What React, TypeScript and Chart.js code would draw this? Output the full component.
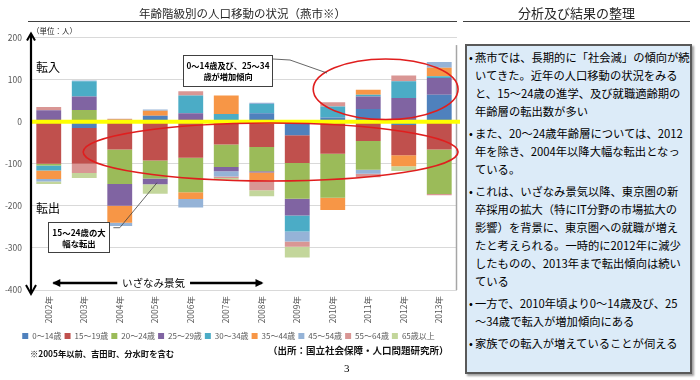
import React, { useEffect, useRef } from "react";
import { Chart, registerables } from "chart.js";

Chart.register(...registerables);

const FONT = '"Noto Sans CJK JP", "Liberation Sans", sans-serif';

const YEARS = ["2002年", "2003年", "2004年", "2005年", "2006年", "2007年", "2008年", "2009年", "2010年", "2011年", "2012年", "2013年"];
const AGE_LABELS = ["0～14歳", "15～19歳", "20～24歳", "25～29歳", "30～34歳", "35～44歳", "45～54歳", "55～64歳", "65歳以上"];

const AGE_0_14 = [0, -15, 0, 14, 0, 0, 20, -32, 10, 30, -8, 64];
const AGE_15_19 = [-100, -85, -66, -92, -86, -54, -60, -66, -76, -46, -72, -66];
const AGE_20_24 = [-4, 28, -82, -43, -82, -54, -58, -85, -105, -68, 0, -106];
const AGE_25_29 = [27, 32, -52, -14, 20, -10, -3, -40, 0, 30, 56, 40];
const AGE_30_34 = [-12, 36, 0, 0, 42, 18, 22, -38, 26, 4, 40, 4];
const AGE_35_44 = [-20, 0, -40, 12, -16, 44, -18, 0, -29, 12, -26, 20];
const AGE_45_54 = [-6, 2, -8, 3, -20, -12, 3, -24, 0, -10, 0, 14];
const AGE_55_64 = [8, -22, 7, 0, 10, -4, -24, -12, 10, -8, 14, -3];
const AGE_65_UP = [-6, -12, 0, -22, 0, -4, -14, -26, 0, 0, -11, 0];

const SERIES = [AGE_0_14, AGE_15_19, AGE_20_24, AGE_25_29, AGE_30_34, AGE_35_44, AGE_45_54, AGE_55_64, AGE_65_UP];
const COLORS = ["#4F81BD", "#C0504D", "#9BBB59", "#8064A2", "#4BACC6", "#F79646", "#95B3D7", "#D99694", "#C3D69B"];

const Y_MIN = -400;
const Y_MAX = 200;
const Y_STEP = 100;

const TITLE_LEFT = "年齢階級別の人口移動の状況（燕市※）";
const TITLE_RIGHT = "分析及び結果の整理";
const NOTE = "※2005年以前、吉田町、分水町を含む";
const SOURCE = "（出所：国立社会保障・人口問題研究所）";

const PANEL = [
  ["燕市では、長期的に「社会減」の傾向が続", "いてきた。近年の人口移動の状況をみる", "と、15～24歳の進学、及び就職適齢期の", "年齢層の転出数が多い"],
  ["また、20～24歳年齢層については、2012", "年を除き、2004年以降大幅な転出となっ", "ている。"],
  ["これは、いざなみ景気以降、東京圏の新", "卒採用の拡大（特にIT分野の市場拡大の", "影響）を背景に、東京圏への就職が増え", "たと考えられる。一時的に2012年に減少", "したものの、2013年まで転出傾向は続い", "ている"],
  ["一方で、2010年頃より0～14歳及び、25", "～34歳で転入が増加傾向にある"],
  ["家族での転入が増えていることが伺える"],
];

const overlayPlugin = {
  id: "slideOverlay",
  afterDatasetsDraw(chart: any) {
    const { ctx, chartArea: ca, scales } = chart;
    const xs = scales.x;
    const ys = scales.y;
    const X = (i: number) => xs.getPixelForValue(i);
    const Y = (v: number) => ys.getPixelForValue(v);
    ctx.save();

    // right frame line
    ctx.strokeStyle = "#A6A6A6";
    ctx.lineWidth = 1.5;
    ctx.beginPath();
    ctx.moveTo(ca.right - 0.5, Y(182));
    ctx.lineTo(ca.right - 0.5, ca.bottom);
    ctx.stroke();

    // yellow zero line
    ctx.strokeStyle = "#FFFF00";
    ctx.lineWidth = 4;
    ctx.beginPath();
    ctx.moveTo(ca.left, Y(0));
    ctx.lineTo(ca.right + 3, Y(0));
    ctx.stroke();

    // black vertical axis with arrows
    const ax = ca.left;
    ctx.strokeStyle = "#000";
    ctx.lineWidth = 2.2;
    ctx.beginPath();
    ctx.moveTo(ax, Y(Y_MAX) - 3);
    ctx.lineTo(ax, ca.bottom + 3);
    ctx.stroke();
    ctx.lineWidth = 2;
    ctx.beginPath();
    ctx.moveTo(ax - 4, Y(Y_MAX) + 3);
    ctx.lineTo(ax, Y(Y_MAX) - 4);
    ctx.lineTo(ax + 4, Y(Y_MAX) + 3);
    ctx.stroke();
    ctx.beginPath();
    ctx.moveTo(ax - 5, ca.bottom - 5);
    ctx.lineTo(ax, ca.bottom + 4);
    ctx.lineTo(ax + 5, ca.bottom - 5);
    ctx.stroke();

    // axis captions
    ctx.fillStyle = "#262626";
    ctx.textBaseline = "middle";
    ctx.textAlign = "left";
    ctx.font = `7.5px ${FONT}`;
    ctx.fillText("（単位：人）", ax + 1, Y(Y_MAX) - 6);
    ctx.fillStyle = "#000";
    ctx.font = `12px ${FONT}`;
    ctx.fillText("転入", ax + 5, Y(130));
    ctx.fillText("転出", ax + 5, Y(-205));

    // いざなみ景気 arrow
    const ay = ca.bottom - 7;
    ctx.strokeStyle = "#000";
    ctx.fillStyle = "#000";
    ctx.lineWidth = 2.4;
    ctx.beginPath();
    ctx.moveTo(X(0.13), ay);
    ctx.lineTo(X(1.93), ay);
    ctx.moveTo(X(3.98), ay);
    ctx.lineTo(X(6.0), ay);
    ctx.stroke();
    ctx.beginPath();
    ctx.moveTo(X(0.1), ay);
    ctx.lineTo(X(0.1) + 8, ay - 4);
    ctx.lineTo(X(0.1) + 8, ay + 4);
    ctx.closePath();
    ctx.fill();
    ctx.beginPath();
    ctx.moveTo(X(6.05), ay);
    ctx.lineTo(X(6.05) - 8, ay - 4);
    ctx.lineTo(X(6.05) - 8, ay + 4);
    ctx.closePath();
    ctx.fill();
    ctx.font = `10.5px ${FONT}`;
    ctx.textAlign = "center";
    ctx.fillText("いざなみ景気", X(2.95), ay);

    // red ellipses
    ctx.strokeStyle = "#E01E1E";
    ctx.lineWidth = 1.6;
    ctx.beginPath();
    ctx.ellipse(X(6.25), Y(-72), X(11.53) - X(6.25), Y(-69) - Y(0), 0, 0, Math.PI * 2);
    ctx.stroke();
    ctx.beginPath();
    ctx.ellipse(X(9.49), Y(77), X(11.53) - X(9.49), Y(0) - Y(72), 0, 0, Math.PI * 2);
    ctx.stroke();

    // annotation 1
    ctx.strokeStyle = "#404040";
    ctx.lineWidth = 0.8;
    ctx.beginPath();
    ctx.moveTo(273, 59);
    ctx.lineTo(290, 60);
    ctx.lineTo(327, 73);
    ctx.stroke();
    ctx.fillStyle = "#fff";
    ctx.fillRect(183.5, 55.5, 89, 31);
    ctx.lineWidth = 1;
    ctx.strokeRect(183.5, 55.5, 89, 31);
    ctx.fillStyle = "#000";
    ctx.font = `bold 8.2px ${FONT}`;
    ctx.textAlign = "center";
    ctx.fillText("0～14歳及び、25～34", 228, 65.5);
    ctx.fillText("歳が増加傾向", 228, 76.5);

    // annotation 2
    ctx.lineWidth = 0.8;
    ctx.beginPath();
    ctx.moveTo(X(1.82), Y(-252));
    ctx.lineTo(X(2.0), Y(-252));
    ctx.lineTo(X(3.05), Y(-145));
    ctx.stroke();
    ctx.fillStyle = "#fff";
    ctx.fillRect(48.5, 222.5, 61, 30);
    ctx.lineWidth = 1;
    ctx.strokeRect(48.5, 222.5, 61, 30);
    ctx.fillStyle = "#000";
    ctx.font = `bold 8.4px ${FONT}`;
    ctx.fillText("15～24歳の大", 79, 232.5);
    ctx.fillText("幅な転出", 79, 243.5);

    ctx.restore();
  },
};

export default function App() {
  const ref = useRef<HTMLCanvasElement>(null);

  useEffect(() => {
    const chart = new Chart(ref.current as HTMLCanvasElement, {
      type: "bar",
      data: {
        labels: YEARS,
        datasets: SERIES.map((d, i) => ({
          label: AGE_LABELS[i],
          data: d,
          backgroundColor: COLORS[i],
          borderWidth: 0,
          categoryPercentage: 1,
          barPercentage: 0.7,
        })),
      },
      options: {
        responsive: false,
        animation: false,
        devicePixelRatio: 1,
        layout: { padding: { left: 0, right: 3, top: 37.5, bottom: 30 } },
        plugins: {
          title: { display: false },
          tooltip: { enabled: false },
          legend: {
            position: "bottom",
            labels: {
              boxWidth: 6,
              boxHeight: 6,
              padding: 3,
              color: "#595959",
              font: { size: 8, family: FONT },
            },
          },
        },
        scales: {
          x: {
            stacked: true,
            grid: { display: false, drawTicks: false },
            border: { display: false },
            ticks: {
              autoSkip: false,
              minRotation: 90,
              maxRotation: 90,
              padding: 6,
              color: "#595959",
              font: { size: 8.5, family: FONT },
            },
            afterFit: (s: any) => {
              s.height = 39;
            },
          },
          y: {
            stacked: true,
            min: Y_MIN,
            max: Y_MAX,
            grid: { color: "#D9D9D9", lineWidth: 1, drawTicks: false },
            border: { display: false },
            ticks: {
              stepSize: Y_STEP,
              padding: 9,
              color: "#595959",
              font: { size: 8.5, family: FONT },
            },
            afterFit: (s: any) => {
              s.width = 31;
            },
          },
        },
      },
      plugins: [overlayPlugin],
    });
    return () => chart.destroy();
  }, []);

  return (
    <div
      style={{
        position: "fixed",
        left: 0,
        top: 0,
        width: 700,
        height: 380,
        background: "#fff",
        overflow: "hidden",
        fontFamily: FONT,
        color: "#000",
      }}
    >
      <canvas ref={ref} width={460} height={380} style={{ position: "absolute", left: 0, top: 0, width: 460, height: 380 }} />
      <div
        style={{
          position: "absolute",
          left: 28,
          top: 5,
          width: 429,
          height: 16,
          borderBottom: "1.5px solid #404040",
          textAlign: "center",
          fontSize: 11.5,
          lineHeight: "16px",
          color: "#262626",
          whiteSpace: "nowrap",
        }}
      >
        {TITLE_LEFT}
      </div>
      <div
        style={{
          position: "absolute",
          left: 463,
          top: 4,
          width: 227,
          height: 17,
          borderBottom: "1.5px solid #404040",
          textAlign: "center",
          fontSize: 13,
          lineHeight: "18px",
          color: "#262626",
          whiteSpace: "nowrap",
        }}
      >
        {TITLE_RIGHT}
      </div>
      <div style={{ position: "absolute", left: 30, top: 346, fontSize: 8.3, fontWeight: 700, lineHeight: "14px", whiteSpace: "nowrap", color: "#111" }}>
        {NOTE}
      </div>
      <div style={{ position: "absolute", left: 268, top: 343, fontSize: 9.5, fontWeight: 700, lineHeight: "14px", whiteSpace: "nowrap", color: "#111" }}>
        {SOURCE}
      </div>
      <div style={{ position: "absolute", left: 344, top: 361, fontSize: 11, fontFamily: '"Liberation Serif", serif', lineHeight: "14px" }}>3</div>
      <div
        style={{
          position: "absolute",
          left: 465,
          top: 44,
          width: 223,
          height: 324,
          background: "#DCEBF8",
          border: "2px solid #595959",
          boxShadow: "2px 2px 2px #A0A0A0",
          paddingTop: 2,
          boxSizing: "content-box",
        }}
      >
        {PANEL.map((para, pi) => (
          <div key={pi} style={{ marginTop: pi === 0 ? 0 : 4 }}>
            {para.map((line, li) => (
              <div key={li} style={{ position: "relative", paddingLeft: 8, fontSize: 11.3, lineHeight: "18px", whiteSpace: "nowrap", height: 18 }}>
                {li === 0 ? <span style={{ position: "absolute", left: 2, top: 0 }}>•</span> : null}
                {line}
              </div>
            ))}
          </div>
        ))}
      </div>
    </div>
  );
}
